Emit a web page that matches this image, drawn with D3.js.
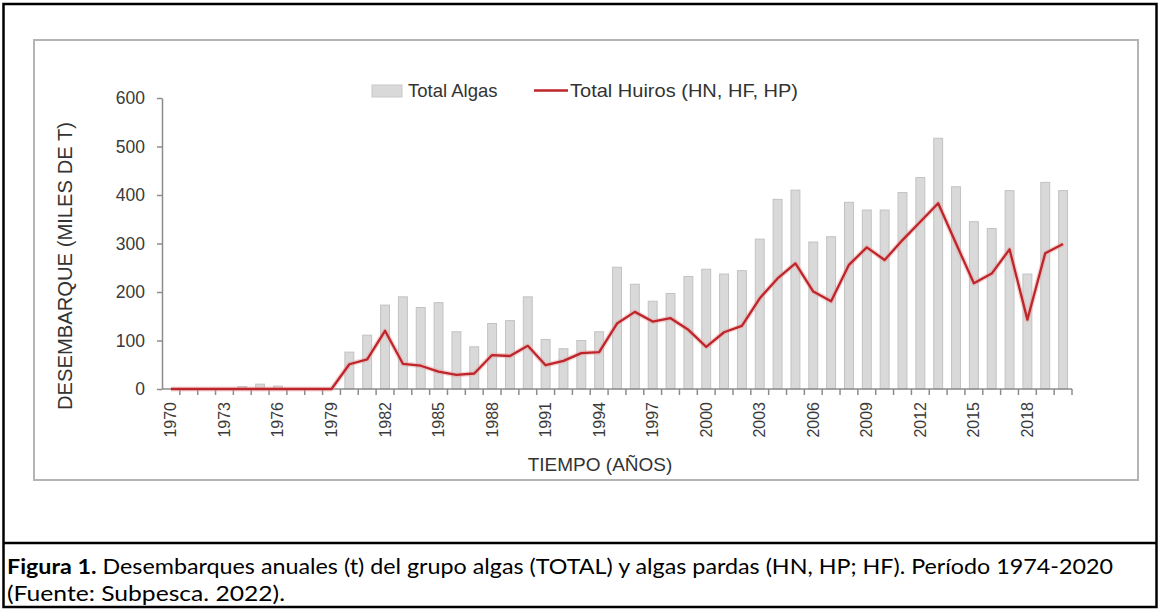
<!DOCTYPE html>
<html><head><meta charset="utf-8">
<script src="https://cdn.jsdelivr.net/npm/d3@7"></script>
<style>
html,body{margin:0;padding:0;background:#fff;}
svg{display:block;}
</style></head>
<body>
<svg id="c" width="1159" height="609"></svg>
<script>
const years = d3.range(1970, 2021);
const totalAlgas = [0,0,0,0,5,10,6,0,0,0,
  76,111,173,190,168,178,118,87,135,141,
  190,102,83,100,118,251,216,181,197,232,
  247,237,244,309,391,410,303,314,385,369,
  369,405,436,517,417,345,331,409,237,426,409];
const totalHuiros = [0,0,0,0,0,0,0,0,0,0,
  51,61,120,52,48,36,29,32,70,68,
  89,49,58,74,76,135,159,139,146,122,
  87,117,130,187,228,259,201,181,256,292,
  266,307,345,383,300,218,238,288,143,280,299];
const yTicks = [0,100,200,300,400,500,600];
const xTickYears = d3.range(1970, 2019, 3);
const seriesNames = ["Total Algas", "Total Huiros (HN, HF, HP)"];
const yLabel = "DESEMBARQUE (MILES DE T)";
const xLabel = "TIEMPO (AÑOS)";
const captionBold = "Figura 1.";
const captionRest = " Desembarques anuales (t) del grupo algas (TOTAL) y algas pardas (HN, HP; HF). Período 1974-2020";
const captionLine2 = "(Fuente: Subpesca. 2022).";

const svg = d3.select("#c");
const FONT = "'Liberation Sans', Arial, sans-serif";

// outer frame
svg.append("rect").attr("x",3.5).attr("y",4).attr("width",1153).attr("height",603)
  .attr("fill","none").attr("stroke","#000").attr("stroke-width",2.5);
svg.append("line").attr("x1",3.5).attr("x2",1156.5).attr("y1",543).attr("y2",543)
  .attr("stroke","#000").attr("stroke-width",2.5);
// chart frame
svg.append("rect").attr("x",34).attr("y",40).attr("width",1104).attr("height",440)
  .attr("fill","#fff").attr("stroke","#b4b4b4").attr("stroke-width",2);

const x = d3.scaleBand().domain(years).range([162,1072]).paddingInner(0.5).paddingOuter(0.25);
const xc = d => x(d) + x.bandwidth()/2;
const y = d3.scaleLinear().domain([0,600]).range([389,98]);

// bars
svg.append("g").selectAll("rect").data(years).join("rect")
  .attr("x", d => x(d))
  .attr("width", x.bandwidth())
  .attr("y", (d,i) => y(totalAlgas[i]))
  .attr("height", (d,i) => y(0) - y(totalAlgas[i]))
  .attr("fill","#d9d9d9").attr("stroke","#c2c2c2").attr("stroke-width",1);

// y axis
const yAxis = svg.append("g").attr("transform","translate(162,0)")
  .call(d3.axisLeft(y).tickValues(yTicks).tickSize(5).tickPadding(12).tickSizeOuter(0));
yAxis.select(".domain").attr("stroke","#8c8c8c").attr("stroke-width",1.5);
yAxis.selectAll(".tick line").attr("stroke","#8c8c8c").attr("stroke-width",1.5);
yAxis.selectAll(".tick text").attr("font-family",FONT).attr("font-size",17.5).attr("fill","#3a3a3a");

// x axis: ticks at category boundaries
const band = x.step();
const xAxisG = svg.append("g");
xAxisG.append("line").attr("x1",162).attr("x2",1072).attr("y1",389).attr("y2",389)
  .attr("stroke","#8c8c8c").attr("stroke-width",1.5);
xAxisG.selectAll("line.tk").data(years).join("line").attr("class","tk")
  .attr("x1", d => xc(d) + band/2).attr("x2", d => xc(d) + band/2)
  .attr("y1",389).attr("y2",395).attr("stroke","#8c8c8c").attr("stroke-width",1.5);
xAxisG.selectAll("text").data(xTickYears).join("text")
  .attr("transform", d => `translate(${xc(d)},402) rotate(-90)`)
  .attr("text-anchor","end").attr("dominant-baseline","central")
  .attr("font-family",FONT).attr("font-size",16).attr("fill","#3a3a3a")
  .text(d => d);

// line with glow
const line = d3.line().x((d,i) => xc(years[i])).y(d => y(d));
svg.append("path").datum(totalHuiros).attr("d",line).attr("fill","none")
  .attr("stroke","#e8a0a0").attr("stroke-width",5).attr("stroke-opacity",0.45).attr("stroke-linejoin","round");
svg.append("path").datum(totalHuiros).attr("d",line).attr("fill","none")
  .attr("stroke","#bd252b").attr("stroke-width",2.3).attr("stroke-linejoin","round");

// legend
svg.append("rect").attr("x",372).attr("y",85).attr("width",30).attr("height",12)
  .attr("fill","#d9d9d9").attr("stroke","#c8c8c8");
svg.append("text").attr("x",408).attr("y",97).attr("font-family",FONT).attr("font-size",18.5)
  .attr("fill","#333").text(seriesNames[0]);
svg.append("line").attr("x1",534).attr("x2",568).attr("y1",90.5).attr("y2",90.5)
  .attr("stroke","#bd252b").attr("stroke-width",2.3);
svg.append("text").attr("x",570).attr("y",97).attr("font-family",FONT).attr("font-size",18.5)
  .attr("fill","#333").attr("textLength",228).attr("lengthAdjust","spacingAndGlyphs").text(seriesNames[1]);

// axis titles
svg.append("text").attr("transform","translate(65,266) rotate(-90)")
  .attr("text-anchor","middle").attr("dominant-baseline","central")
  .attr("font-family",FONT).attr("font-size",19.5).attr("fill","#333")
  .attr("textLength",288).attr("lengthAdjust","spacingAndGlyphs").text(yLabel);
svg.append("text").attr("x",600).attr("y",471).attr("text-anchor","middle")
  .attr("font-family",FONT).attr("font-size",19).attr("fill","#333").text(xLabel);

// caption
const CF = "Lato, 'Open Sans', sans-serif";
const cap = svg.append("text").attr("x",7).attr("y",574).attr("font-family",CF).attr("font-size",21.5)
  .attr("fill","#000").attr("textLength",1106).attr("lengthAdjust","spacingAndGlyphs");
cap.append("tspan").attr("font-weight","bold").text(captionBold);
cap.append("tspan").text(captionRest);
svg.append("text").attr("x",7).attr("y",601).attr("font-family",CF).attr("font-size",21.5)
  .attr("fill","#000").attr("textLength",278).attr("lengthAdjust","spacingAndGlyphs").text(captionLine2);
</script>
</body></html>
